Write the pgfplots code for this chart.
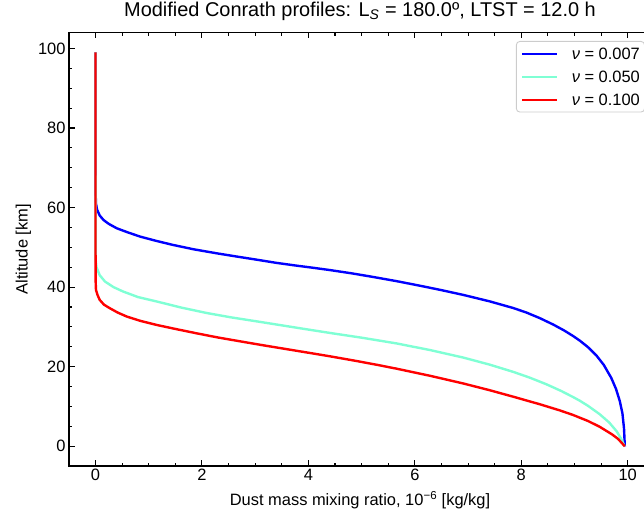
\documentclass[border=0pt]{standalone}
\usepackage{fontspec}
\setmainfont{Liberation Sans}
\usepackage{pgfplots}
\pgfplotsset{compat=1.18}
\definecolor{nublue}{RGB}{0,0,255}
\definecolor{nuaqua}{RGB}{127,255,212}
\definecolor{nured}{RGB}{255,0,0}
\begin{document}
\begin{tikzpicture}
\begin{axis}[
  at={(0,0)}, anchor=south west,
  scale only axis, width=582bp, height=433.3bp,
  xmin=-0.497, xmax=10.437, ymin=-4.95, ymax=103.95,
  xtick={0,2,...,10}, ytick={0,20,...,100},
  minor x tick num=3, minor y tick num=3,
  tick align=inside,
  major tick length=5.8bp, minor tick length=3.3bp,
  every tick/.style={black, line width=1.1bp},
  axis line style={line width=1.1bp},
  /pgf/number format/assume math mode=true,
  tick label style={font=\fontsize{16.5}{19}\selectfont},
  label style={font=\fontsize{16.5}{19}\selectfont},
  title style={font=\fontsize{20}{24}\selectfont, at={(axis description cs:0.5,1)}, anchor=base, yshift=10bp},
  title={Modified Conrath profiles: L\textsubscript{\textit{S}} = 180.0º, LTST = 12.0 h},
  xlabel={Dust mass mixing ratio, 10\textsuperscript{−6} [kg/kg]},
  xlabel style={at={(axis description cs:0.5,0)}, anchor=base, yshift=-39.5bp},
  ylabel={Altitude [km]},
  ylabel style={at={(axis description cs:-0.0785,0.5)}, anchor=center},
  legend cell align=left,
  legend image code/.code={\draw[#1] (0bp,0bp) -- (35bp,0bp);},
  legend style={at={(rel axis cs:1,1)}, anchor=north east, xshift=-6bp, yshift=-8.3bp,
    draw=black!20, line width=0.9bp, rounded corners=3.5bp, fill=white,
    font=\fontsize{16.5}{19}\selectfont, inner xsep=4.7bp, inner ysep=0.8bp,
    row sep=0bp, column sep=13.3bp,
    nodes={inner xsep=0bp, inner ysep=5.75bp, text height=11.5bp, text depth=0bp}},
]
\addplot[nublue, line width=2.4bp, line join=round] coordinates {
(0.000,99.0) (0.002,64.0) (0.010,61.0) (0.030,59.5) (0.080,58.0) (0.150,56.9)
(0.250,55.9) (0.400,54.8) (0.600,53.8) (0.840,52.7) (1.150,51.6) (1.460,50.6)
(1.850,49.5) (2.280,48.5) (2.650,47.7) (3.030,46.9) (3.400,46.1) (3.780,45.4)
(4.100,44.85) (4.400,44.3) (4.800,43.5) (5.200,42.6) (5.660,41.5) (6.100,40.35)
(6.500,39.25) (6.910,38.05) (7.400,36.45) (7.850,34.75) (8.100,33.6) (8.350,32.2)
(8.600,30.6) (8.800,29.15) (8.970,27.75) (9.100,26.55) (9.250,24.95)
(9.410,22.85) (9.550,20.45) (9.690,17.2) (9.780,14.4) (9.850,11.4) (9.900,8.3)
(9.930,4.5) (9.945,0.0)
};
\addlegendentry{\textit{ν} = 0.007}
\addplot[nuaqua, line width=2.4bp, line join=round] coordinates {
(0.000,99.0) (0.003,47.0) (0.020,45.0) (0.080,43.0) (0.180,41.4) (0.340,40.0)
(0.520,38.9) (0.800,37.5) (1.150,36.4) (1.600,34.9) (2.090,33.5) (2.550,32.4)
(3.030,31.4) (3.500,30.4) (3.970,29.4) (4.450,28.4) (5.000,27.3) (5.660,25.85)
(6.300,24.15) (6.910,22.3) (7.400,20.55) (7.850,18.7) (8.150,17.3) (8.470,15.6)
(8.750,13.9) (8.970,12.4) (9.100,11.45) (9.250,10.2) (9.470,8.1) (9.650,6.0)
(9.790,3.8) (9.880,1.8) (9.940,0.0)
};
\addlegendentry{\textit{ν} = 0.050}
\addplot[nured, line width=2.4bp, line join=round] coordinates {
(0.000,99.0) (0.002,42.0) (0.010,39.3) (0.040,38.0) (0.080,36.8) (0.160,35.6)
(0.270,34.7) (0.420,33.6) (0.590,32.6) (0.850,31.5) (1.150,30.5) (1.500,29.5)
(1.900,28.4) (2.300,27.35) (2.710,26.4) (3.150,25.39) (3.650,24.29) (4.100,23.3)
(4.400,22.63) (4.900,21.45) (5.300,20.45) (5.660,19.5) (6.300,17.68) (6.910,15.79)
(7.400,14.12) (7.850,12.46) (8.350,10.56) (8.720,9.04) (8.970,7.89) (9.250,6.38)
(9.470,4.93) (9.700,3.04) (9.820,1.84) (9.945,0.0)
};
\addlegendentry{\textit{ν} = 0.100}
\end{axis}
\pgfresetboundingbox
\useasboundingbox (-69bp,-47bp) rectangle (575bp,466bp);
\end{tikzpicture}
\end{document}
